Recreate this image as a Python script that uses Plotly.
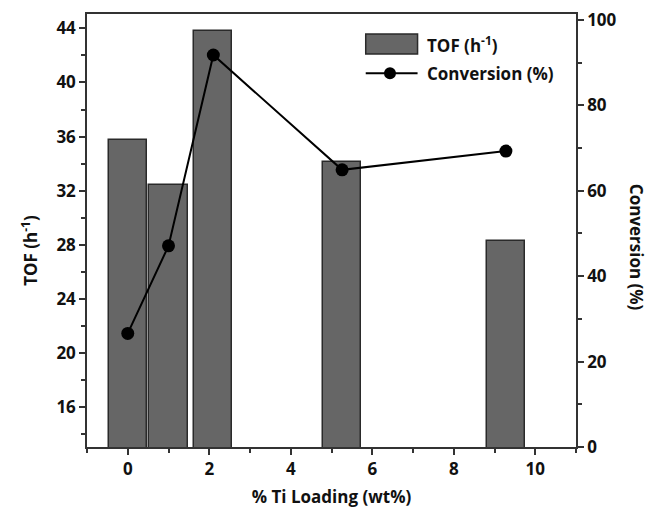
import plotly.graph_objects as go

# Ti loading (wt%) of each catalyst
ti_loading = [0.0, 1.0, 2.1, 5.26, 9.28]
# Turnover frequency (h^-1)
tof = [35.75, 32.4, 43.8, 34.1, 28.3]
# Conversion (%)
conversion = [26.6, 47.1, 91.8, 64.9, 69.3]

x_ticks = [0, 2, 4, 6, 8, 10]
tof_ticks = [16, 20, 24, 28, 32, 36, 40, 44]
conv_ticks = [0, 20, 40, 60, 80, 100]

BAR_FILL = "#666666"
BAR_EDGE = "#2a2a2a"
FONT = "Open Sans"
tick_font = dict(family=FONT, size=17, color="#111111", weight=700)
title_font = dict(family=FONT, size=17, color="#111111", weight=700)

fig = go.Figure()

fig.add_trace(go.Bar(
    x=ti_loading, y=tof, width=0.94,
    name="TOF (h<sup>-1</sup>)",
    marker=dict(color=BAR_FILL, line=dict(color=BAR_EDGE, width=1.5)),
    yaxis="y", showlegend=False,
))

fig.add_trace(go.Scatter(
    x=ti_loading, y=conversion, mode="lines+markers",
    name="Conversion (%)",
    line=dict(color="#000000", width=2),
    marker=dict(color="#000000", size=13),
    yaxis="y2", showlegend=False,
))

axis_common = dict(
    showgrid=False, zeroline=False, showline=True, automargin=False,
    linecolor="#333333", linewidth=1.5,
    ticks="outside", tickcolor="#333333", tickwidth=1.5, ticklen=6,
    tickfont=tick_font,
)

# Legend key drawn in paper coordinates (wide box + line with dot)
legend_shapes = [
    dict(type="rect", xref="paper", yref="paper",
         x0=0.570, x1=0.676, y0=0.9076, y1=0.9538,
         fillcolor=BAR_FILL, line=dict(color=BAR_EDGE, width=1.5)),
    dict(type="line", xref="paper", yref="paper",
         x0=0.570, x1=0.676, y0=0.863, y1=0.863,
         line=dict(color="#000000", width=2)),
    dict(type="circle", xref="paper", yref="paper",
         xsizemode="pixel", ysizemode="pixel",
         xanchor=0.6196, yanchor=0.863,
         x0=-6, x1=6, y0=-6, y1=6,
         fillcolor="#000000", line=dict(color="#000000", width=0)),
]

legend_labels = [
    dict(text="TOF (h<sup>-1</sup>)", x=0.691, y=0.930),
    dict(text="Conversion (%)", x=0.691, y=0.863),
]

annotations = [
    dict(text=lab["text"], xref="paper", yref="paper", x=lab["x"], y=lab["y"],
         xanchor="left", yanchor="middle", showarrow=False, font=title_font)
    for lab in legend_labels
]
# Y-axis titles (left reads upward, right reads downward)
annotations.append(dict(
    text="TOF (h<sup>-1</sup>)", textangle=-90,
    xref="paper", yref="paper", x=-0.117, y=0.455,
    xanchor="center", yanchor="middle", showarrow=False,
    font=title_font,
))
annotations.append(dict(
    text="Conversion (%)", textangle=90,
    xref="paper", yref="paper", x=1.123, y=0.462,
    xanchor="center", yanchor="middle", showarrow=False,
    font=title_font,
))

fig.update_layout(
    width=650, height=508,
    margin=dict(l=87, r=74, t=14, b=61),
    paper_bgcolor="white", plot_bgcolor="white",
    bargap=0,
    showlegend=False,
    xaxis=dict(
        **axis_common,
        range=[-1, 11], tickvals=x_ticks, mirror=True,
        minor=dict(ticks="outside", dtick=1, tick0=0, ticklen=4,
                   tickcolor="#333333", tickwidth=1.5),
        title=dict(text="% Ti Loading (wt%)", font=title_font, standoff=16),
    ),
    yaxis=dict(
        **axis_common,
        range=[13.07, 45.06], tickvals=tof_ticks,
        minor=dict(ticks="outside", dtick=2, tick0=14, ticklen=4,
                   tickcolor="#333333", tickwidth=1.5),
    ),
    yaxis2=dict(
        **axis_common,
        overlaying="y", side="right",
        range=[0, 101.4], tickvals=conv_ticks,
        minor=dict(ticks="outside", dtick=10, tick0=0, ticklen=4,
                   tickcolor="#333333", tickwidth=1.5),
    ),
    shapes=legend_shapes,
    annotations=annotations,
)

fig.write_html("out.html")
